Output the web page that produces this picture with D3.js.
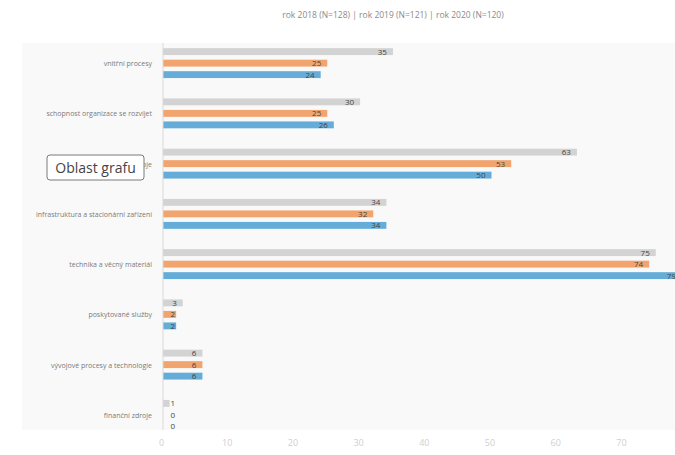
<!DOCTYPE html>
<html>
<head>
<meta charset="utf-8">
<script src="https://cdnjs.cloudflare.com/ajax/libs/d3/7.8.5/d3.min.js"></script>
<style>
  body { margin: 0; background: #fff; }
  text { font-family: "Open Sans", "DejaVu Sans", sans-serif; }
</style>
</head>
<body>
<script>
// data
const categories = [
  "vnitřní procesy",
  "schopnost organizace se rozvíjet",
  "lidské zdroje",
  "infrastruktura a stacionární zařízení",
  "technika a věcný materiál",
  "poskytované služby",
  "vývojové procesy a technologie",
  "finanční zdroje"
];
const seriesNames = ["rok 2018 (N=128)", "rok 2019 (N=121)", "rok 2020 (N=120)"];
const grey = [35, 30, 63, 34, 75, 3, 6, 1];
const orange = [25, 25, 53, 32, 74, 2, 6, 0];
const blue = [24, 26, 50, 34, 79, 2, 6, 0];
const ticks = [0, 10, 20, 30, 40, 50, 60, 70];
const colors = ["#d3d3d3", "#f2a46e", "#65add8"];

const w = 675, h = 455;
const series = [grey, orange, blue];

const svg = d3.select("body").append("svg")
  .attr("width", w)
  .attr("height", h);

// plot area
svg.append("rect")
  .attr("x", 22).attr("y", 43)
  .attr("width", w - 22).attr("height", 387)
  .attr("fill", "#f9f9f9");

const xScale = d3.scaleLinear().domain([0, 80]).range([163, 688.6]);
const yScale = d3.scaleBand().domain(categories).range([38, 440]);
const inner = d3.scaleBand().domain([0, 1, 2]).range([-17.25, 17.25])
  .paddingInner(0.4).paddingOuter(0.2);

// legend / title line
svg.append("text")
  .attr("x", 393).attr("y", 18)
  .attr("text-anchor", "middle")
  .attr("font-size", 8.5)
  .attr("fill", "#8a8a8a")
  .text(seriesNames.join("  |  "));

const groups = svg.selectAll("g.cat")
  .data(categories)
  .enter().append("g")
  .attr("class", "cat")
  .attr("transform", d => "translate(0," + (yScale(d) + yScale.bandwidth() / 2) + ")");

groups.append("text")
  .attr("x", 152)
  .attr("y", 3)
  .attr("text-anchor", "end")
  .attr("font-size", 7)
  .attr("fill", "#7a7a7a")
  .text(d => d);

series.forEach((vals, s) => {
  groups.append("rect")
    .attr("x", xScale(0))
    .attr("y", inner(s))
    .attr("width", (d, i) => xScale(vals[i]) - xScale(0))
    .attr("height", inner.bandwidth())
    .attr("fill", colors[s]);

  groups.append("text")
    .attr("x", (d, i) => Math.max(xScale(vals[i]) - 6, xScale(0) + 12))
    .attr("y", inner(s) + inner.bandwidth() / 2 + 3)
    .attr("text-anchor", "end")
    .attr("font-size", 8)
    .attr("fill", "#444")
    .text((d, i) => vals[i]);
});

// vertical axis line
svg.append("line")
  .attr("x1", xScale(0)).attr("x2", xScale(0))
  .attr("y1", 43).attr("y2", 430)
  .attr("stroke", "#d9d9d9");

// bottom tick labels (faded)
const xAxis = d3.axisBottom(xScale).tickValues(ticks).tickSize(0).tickPadding(0);
const ax = svg.append("g")
  .attr("transform", "translate(-2,440)")
  .call(xAxis);
ax.select(".domain").remove();
ax.selectAll("text")
  .attr("font-size", 9)
  .attr("fill", "#cfcfcf")
  .attr("font-family", "Open Sans, sans-serif");

// Excel-like tooltip "Oblast grafu" covering the third label
const tip = svg.append("g").attr("transform", "translate(47,155)");
tip.append("rect")
  .attr("width", 97).attr("height", 25)
  .attr("rx", 3)
  .attr("fill", "#fff")
  .attr("stroke", "#7a7a7a");
tip.append("text")
  .attr("x", 48.5).attr("y", 17.5)
  .attr("text-anchor", "middle")
  .attr("font-size", 14)
  .attr("fill", "#444")
  .text("Oblast grafu");
</script>
</body>
</html>
